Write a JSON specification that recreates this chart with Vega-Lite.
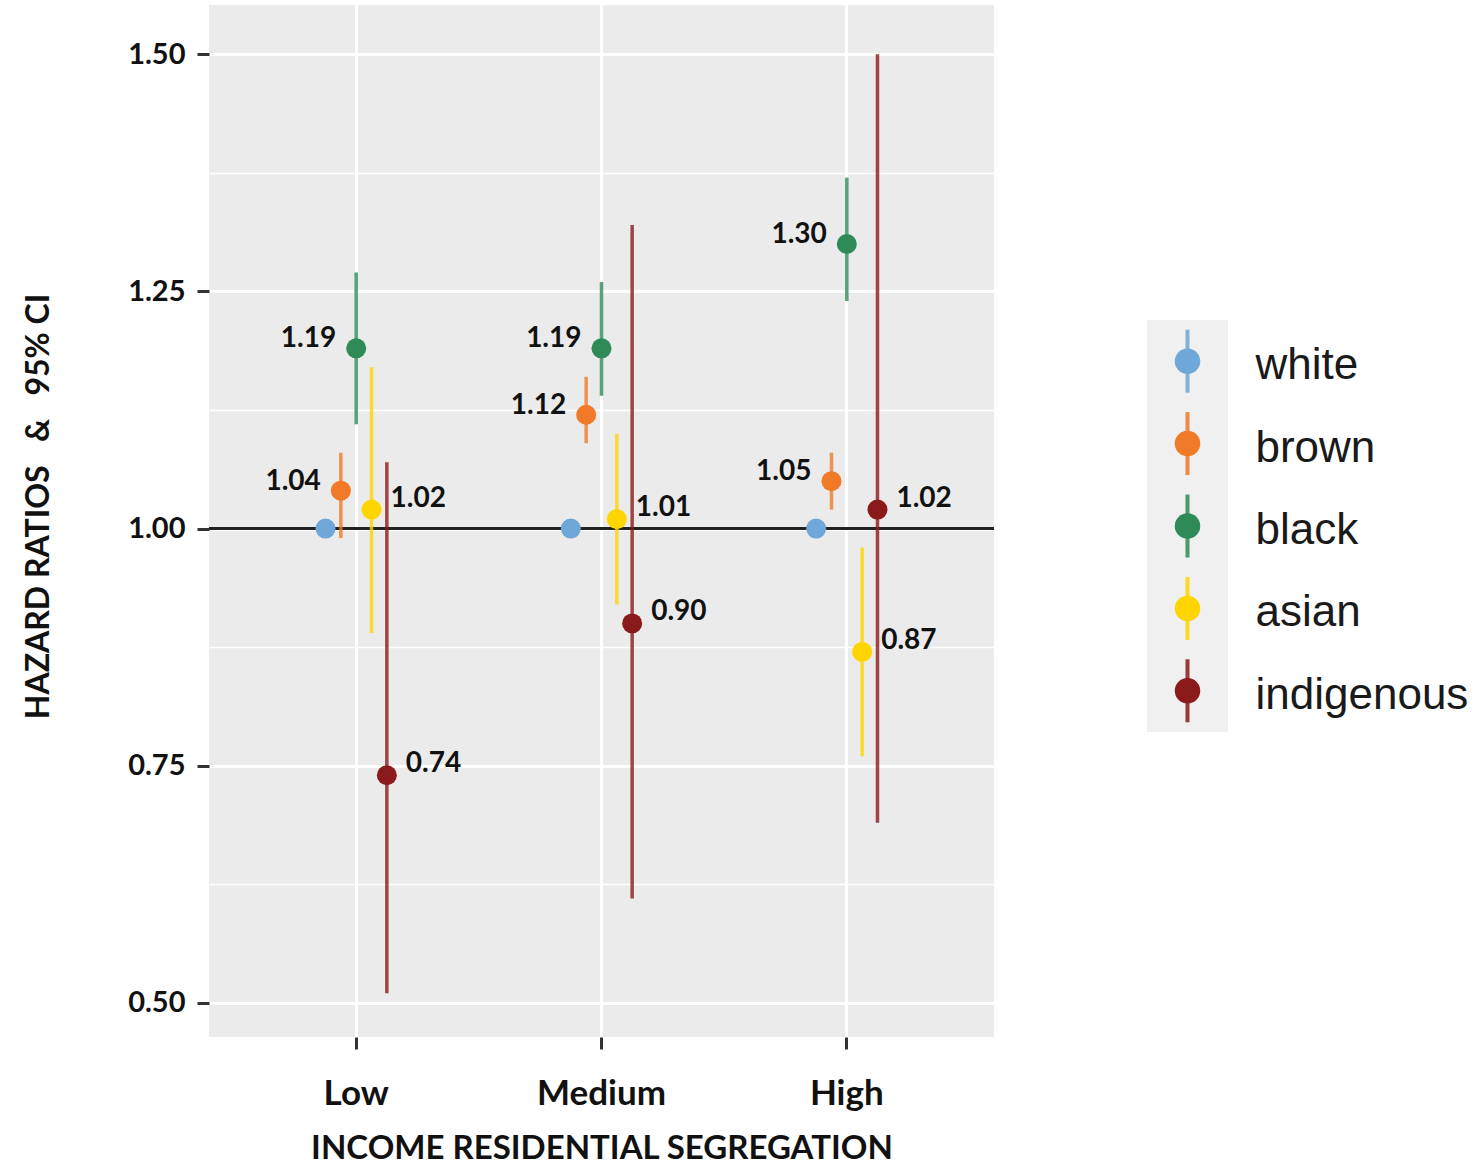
{
  "$schema": "https://vega.github.io/schema/vega-lite/v6.json",
  "padding": {"left": 22, "top": 5, "right": 0, "bottom": 0},
  "background": "white",
  "config": {"view": {"stroke": null}, "concat": {"spacing": 151}},
  "datasets": {
    "hr": [
      {"seg": "Low", "race": "white", "hr": 1.00, "lo": 1.00, "hi": 1.00},
      {"seg": "Low", "race": "brown", "hr": 1.04, "lo": 0.99, "hi": 1.08},
      {"seg": "Low", "race": "black", "hr": 1.19, "lo": 1.11, "hi": 1.27},
      {"seg": "Low", "race": "asian", "hr": 1.02, "lo": 0.89, "hi": 1.17},
      {"seg": "Low", "race": "indigenous", "hr": 0.74, "lo": 0.51, "hi": 1.07},
      {"seg": "Medium", "race": "white", "hr": 1.00, "lo": 1.00, "hi": 1.00},
      {"seg": "Medium", "race": "brown", "hr": 1.12, "lo": 1.09, "hi": 1.16},
      {"seg": "Medium", "race": "black", "hr": 1.19, "lo": 1.14, "hi": 1.26},
      {"seg": "Medium", "race": "asian", "hr": 1.01, "lo": 0.92, "hi": 1.10},
      {"seg": "Medium", "race": "indigenous", "hr": 0.90, "lo": 0.61, "hi": 1.32},
      {"seg": "High", "race": "white", "hr": 1.00, "lo": 1.00, "hi": 1.00},
      {"seg": "High", "race": "brown", "hr": 1.05, "lo": 1.02, "hi": 1.08},
      {"seg": "High", "race": "black", "hr": 1.30, "lo": 1.24, "hi": 1.37},
      {"seg": "High", "race": "asian", "hr": 0.87, "lo": 0.76, "hi": 0.98},
      {"seg": "High", "race": "indigenous", "hr": 1.02, "lo": 0.69, "hi": 1.50}
    ],
    "races": [
      {"race": "white"}, {"race": "brown"}, {"race": "black"}, {"race": "asian"}, {"race": "indigenous"}
    ],
    "ref": [{"ref": 1.0}],
    "blank": [{"b": ""}]
  },
  "hconcat": [
    {
      "width": 785,
      "height": 1032,
      "view": {"fill": "#EBEBEB", "stroke": null},
      "data": {"name": "hr"},
      "encoding": {
        "x": {
          "field": "seg", "type": "nominal", "sort": ["Low", "Medium", "High"],
          "scale": {"type": "band", "paddingInner": 0.75, "paddingOuter": 0.475},
          "axis": {
            "title": "INCOME RESIDENTIAL SEGREGATION",
            "titleFont": "Lato", "titleFontWeight": "bold", "titleFontSize": 33, "titleColor": "#111111",
            "titlePadding": 21,
            "labelFont": "Lato", "labelFontWeight": "bold", "labelFontSize": 35, "labelColor": "#111111",
            "labelPadding": 27, "labelAngle": 0,
            "tickSize": 12, "tickWidth": 3, "tickColor": "#333333", "bandPosition": 0.5,
            "domain": false,
            "grid": true, "gridColor": "#FFFFFF", "gridWidth": 3
          }
        },
        "xOffset": {
          "field": "race", "type": "nominal",
          "sort": ["white", "brown", "black", "asian", "indigenous"],
          "scale": {"type": "point", "padding": 0}
        },
        "color": {
          "field": "race", "type": "nominal",
          "scale": {
            "domain": ["white", "brown", "black", "asian", "indigenous"],
            "range": ["#6FA8D8", "#F07A28", "#2E8B57", "#FFD500", "#8B1A1A"]
          },
          "legend": null
        }
      },
      "layer": [
        {
          "mark": {"type": "rule", "strokeWidth": 0},
          "encoding": {
            "y": {
              "field": "hr", "type": "quantitative",
              "scale": {"domain": [0.464, 1.552], "nice": false, "zero": false},
              "axis": {
                "orient": "left", "values": [0.5, 0.75, 1.0, 1.25, 1.5], "format": ".2f",
                "title": "HAZARD RATIOS\u00a0\u00a0\u00a0&\u00a0\u00a0 95% CI",
                "titleFont": "Lato", "titleFontWeight": "bold", "titleFontSize": 32, "titleColor": "#111111",
                "titlePadding": 72, "titleY": 501,
                "labelFont": "Lato", "labelFontWeight": "bold", "labelFontSize": 29, "labelColor": "#111111",
                "labelPadding": 12,
                "tickSize": 12, "tickWidth": 3, "tickColor": "#333333",
                "domain": false,
                "grid": true, "gridColor": "#FFFFFF", "gridWidth": 3
              }
            }
          }
        },
        {
          "mark": {"type": "rule", "strokeWidth": 0},
          "encoding": {
            "y": {
              "field": "hr", "type": "quantitative",
              "axis": {
                "orient": "right", "values": [0.625, 0.875, 1.125, 1.375],
                "labels": false, "ticks": false, "domain": false, "title": null,
                "grid": true, "gridColor": "#FFFFFF", "gridWidth": 1.5
              }
            }
          }
        },
        {
          "data": {"name": "ref"},
          "mark": {"type": "rule", "color": "#222222", "strokeWidth": 3},
          "encoding": {
            "y": {"field": "ref", "type": "quantitative", "axis": null},
            "x": null, "xOffset": null, "color": null
          }
        },
        {
          "mark": {"type": "rule", "strokeWidth": 3.5, "opacity": 0.8},
          "encoding": {
            "y": {"field": "lo", "type": "quantitative", "axis": null},
            "y2": {"field": "hi"}
          }
        },
        {
          "mark": {"type": "point", "filled": true, "opacity": 1, "size": 400, "shape": "circle"},
          "encoding": {
            "y": {"field": "hr", "type": "quantitative", "axis": null}
          }
        },
        {
          "transform": [{"filter": "datum.race === 'brown' || datum.race === 'black'"}],
          "mark": {"type": "text", "align": "right", "baseline": "middle", "dx": -20, "dy": -9,
                   "font": "Lato", "fontWeight": "bold", "fontSize": 28},
          "encoding": {
            "y": {"field": "hr", "type": "quantitative", "axis": null},
            "text": {"field": "hr", "type": "quantitative", "format": ".2f"},
            "color": {"value": "#111111"}
          }
        },
        {
          "transform": [{"filter": "datum.race === 'asian' || datum.race === 'indigenous'"}],
          "mark": {"type": "text", "align": "left", "baseline": "middle", "dx": 19, "dy": -11,
                   "font": "Lato", "fontWeight": "bold", "fontSize": 28},
          "encoding": {
            "y": {"field": "hr", "type": "quantitative", "axis": null},
            "text": {"field": "hr", "type": "quantitative", "format": ".2f"},
            "color": {"value": "#111111"}
          }
        }
      ],
      "resolve": {"axis": {"y": "independent"}}
    },
    {
      "spacing": 0,
      "vconcat": [
        {
          "width": 81,
          "height": 315,
          "data": {"name": "blank"},
          "mark": {"type": "text"},
          "encoding": {"text": {"field": "b", "type": "nominal"}}
        },
        {
          "width": 81,
          "height": 412,
          "view": {"fill": "#F0F0F0", "stroke": null},
          "data": {"name": "races"},
          "encoding": {
            "y": {
              "field": "race", "type": "nominal",
              "sort": ["white", "brown", "black", "asian", "indigenous"],
              "scale": {"type": "band", "paddingInner": 0, "paddingOuter": 0},
              "axis": {
                "orient": "right", "title": null, "ticks": false, "domain": false, "grid": false,
                "labelFont": "Liberation Sans", "labelFontSize": 44, "labelColor": "#1A1A1A",
                "labelPadding": 27, "labelOffset": 5, "labelBaseline": "middle", "labelLimit": 0
              }
            },
            "color": {
              "field": "race", "type": "nominal",
              "scale": {
                "domain": ["white", "brown", "black", "asian", "indigenous"],
                "range": ["#6FA8D8", "#F07A28", "#2E8B57", "#FFD500", "#8B1A1A"]
              },
              "legend": null
            }
          },
          "layer": [
            {
              "mark": {"type": "point", "shape": "M0,-1V1", "filled": false, "strokeWidth": 4, "size": 3969, "opacity": 0.85}
            },
            {
              "mark": {"type": "point", "shape": "circle", "filled": true, "size": 650, "opacity": 1}
            }
          ]
        }
      ]
    }
  ]
}
